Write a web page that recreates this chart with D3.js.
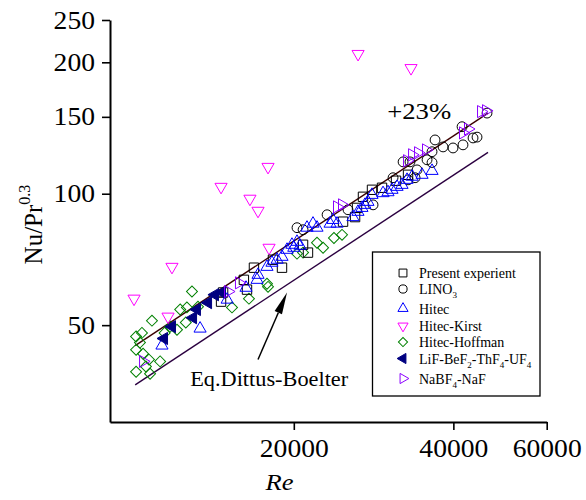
<!DOCTYPE html>
<html>
<head>
<meta charset="utf-8">
<script src="https://cdn.jsdelivr.net/npm/d3@7/dist/d3.min.js"></script>
<style>
  html, body { margin: 0; padding: 0; background: #fff; }
  svg { display: block; }
  text { font-family: "Liberation Serif", "Times New Roman", serif; fill: #000; }
</style>
</head>
<body>
<svg id="chart" width="586" height="500"></svg>
<script>
// ---- data: [Re, Nu/Pr^0.3] ----
const presentExp = [
  [14580,56.6],[14710,59.4],[16100,63.5],[16320,60.3],[16820,67.7],[18270,70.6],
  [19000,67.7],[20820,76.4],[21270,73.3],[24770,86.3],[26100,88.4],[26320,92.8],
  [27010,98.4],[28090,102.1],[29340,103.2],[31180,107.1],[32850,110.5]
];
const lino3 = [
  [20280,83.6],[20820,82.7],[23110,89.5],[25310,91.9],[28220,94.3],[30780,108.8],
  [32850,107.6],[33870,108.8],[34160,113.4],[32150,118.3],[33130,118.3],[35680,119.6],
  [36460,117.9],[36460,124.8],[36940,132.8],[38250,128.0],[39940,127.3],[41710,129.4],
  [41540,142.4],[43570,134.2],[44330,134.8],[46300,153.0]
];
const hitec = [
  [11280,44.9],[13310,49.1],[14970,57.2],[16250,60.9],[17050,63.5],[17120,65.2],
  [17800,68.0],[18190,69.5],[18600,70.6],[19000,71.7],[19420,74.4],[19840,76.4],
  [20000,75.2],[20550,76.0],[20280,77.6],[21180,83.6],[21740,85.4],[22120,83.6],
  [23410,85.4],[23710,87.1],[24130,85.4],[25860,88.4],[26430,90.9],[26890,92.8],
  [27240,94.3],[27600,95.8],[28090,99.4],[29470,100.3],[30110,100.8],[30640,102.1],
  [31320,103.7],[32000,104.8],[32710,107.6],[33430,109.4],[34910,110.5],[36460,112.8]
];
const hitecKirst = [
  [9990,57.5],[11780,68.0],[11580,52.3],[14580,103.7],[16530,97.4],[17120,91.4],
  [17880,115.2],[17960,75.2],[26440,209],[33280,194]
];
const hitecHoffman = [
  [10080,47.1],[10340,48.0],[10080,43.9],[10390,43.0],[10660,41.7],[10520,40.2],
  [10080,39.1],[10710,38.7],[10250,45.6],[10800,51.2],[11190,41.3],[11410,48.0],
  [11690,49.6],[12040,48.8],[12210,54.3],[12570,54.9],[12850,59.7],[12510,50.7],
  [13190,55.1],[15290,54.9],[16460,57.5],[17800,62.2],[17880,61.2],[20280,72.9],
  [20820,73.3],[22120,77.2],[22710,75.2],[23810,79.2],[24660,80.5]
];
const lifBef = [
  [11380,46.6],[11780,49.6],[12910,52.0],[13130,54.3],[13780,56.3],[14200,58.7],[14640,59.4]
];
const nabf4 = [
  [10390,41.3],[15030,59.7],[15760,62.5],[24130,93.3],[24660,94.3],[32710,119.0],
  [33430,122.8],[34310,124.1],[35520,126.0],[41710,137.8],[42630,140.7],[45110,154.2],
  [46100,154.9]
];

// correlation lines (end points)
const lineRe = [10040, 46500];
const dittusNu = [36.5, 124.4];
const plus23Nu = [44.9, 153.0];

// axis ticks
const yMajor = [50, 100, 150, 200, 250];
const xMajor = [20000, 40000, 60000];
const yMinor = d3.range(1, 31).map(i => i * 50 / 6).filter(v => v >= 30 && v <= 250 && Math.abs(v / 50 - Math.round(v / 50)) > 1e-6);
const xMinor = d3.range(1, 28).map(i => i * 20000 / 9).filter(v => v >= 9000 && v <= 60000 && Math.abs(v / 20000 - Math.round(v / 20000)) > 1e-6);

const svg = d3.select("#chart");
const x = d3.scaleLog().domain([9000, 60000]).range([110, 546.7]);
const y = d3.scaleLog().domain([30, 250]).range([422, 20]);

// ---- axes ----
const gy = svg.append("g").attr("transform", `translate(${x.range()[0]},0)`);
gy.call(d3.axisLeft(y).tickValues(yMinor).tickSize(4).tickSizeOuter(0).tickFormat(""));
gy.call(d3.axisLeft(y).tickValues(yMajor).tickSize(8).tickSizeOuter(0).tickPadding(7).tickFormat(d3.format("d")));
const gx = svg.append("g").attr("transform", `translate(0,${y.range()[0]})`);
gx.call(d3.axisBottom(x).tickValues(xMinor).tickSize(4).tickSizeOuter(0).tickFormat(""));
gx.call(d3.axisBottom(x).tickValues(xMajor).tickSize(8).tickSizeOuter(0).tickPadding(9).tickFormat(d3.format("d")));

svg.selectAll(".domain").attr("stroke", "#000").attr("stroke-width", 2);
svg.selectAll(".tick line").attr("stroke", "#000").attr("stroke-width", 1.6);
svg.selectAll(".tick text")
  .attr("font-size", 25)
  .attr("font-family", "Liberation Serif, serif")
  .attr("fill", "#000")
  .attr("textLength", d => String(d).length * 13.8)
  .attr("lengthAdjust", "spacingAndGlyphs");

// axis titles
svg.append("text")
  .attr("x", x(18800)).attr("y", 490)
  .attr("text-anchor", "middle")
  .attr("font-size", 23).attr("font-style", "italic")
  .attr("textLength", 28).attr("lengthAdjust", "spacingAndGlyphs")
  .text("Re");

const yTitle = svg.append("text")
  .attr("transform", `translate(42,${y(85)}) rotate(-90)`)
  .attr("text-anchor", "middle")
  .attr("font-size", 25);
yTitle.append("tspan").text("Nu/Pr");
yTitle.append("tspan").attr("font-size", 16).attr("dy", -12).text("0.3");

// ---- correlation lines ----
const lineGen = d3.line().x(d => x(d[0])).y(d => y(d[1]));
svg.append("path")
  .attr("d", lineGen(lineRe.map((r, i) => [r, dittusNu[i]])))
  .attr("fill", "none").attr("stroke", "#2b0040").attr("stroke-width", 1.4);
svg.append("path")
  .attr("d", lineGen(lineRe.map((r, i) => [r, plus23Nu[i]])))
  .attr("fill", "none").attr("stroke", "#3a0000").attr("stroke-width", 1.4);

// ---- scatter series ----
const series = [
  { name: "Present experient", data: presentExp, type: d3.symbolSquare, size: 88, rot: 0, stroke: "#000", fill: "none" },
  { name: "LINO3", data: lino3, type: d3.symbolCircle, size: 76, rot: 0, stroke: "#000", fill: "none" },
  { name: "Hitec", data: hitec, type: d3.symbolTriangle, size: 64, rot: 0, stroke: "#0000ff", fill: "none" },
  { name: "Hitec-Kirst", data: hitecKirst, type: d3.symbolTriangle, size: 64, rot: 180, stroke: "#ff00ff", fill: "none" },
  { name: "Hitec-Hoffman", data: hitecHoffman, type: d3.symbolSquare, size: 60, rot: 45, stroke: "#008000", fill: "none" },
  { name: "LiF", data: lifBef, type: d3.symbolTriangle, size: 64, rot: -90, stroke: "#000080", fill: "#000080" },
  { name: "NaBF4-NaF", data: nabf4, type: d3.symbolTriangle, size: 64, rot: 90, stroke: "#8b00ff", fill: "none" }
];

const drawOrder = [4, 3, 0, 1, 2, 5, 6];
drawOrder.forEach(i => {
  const s = series[i];
  svg.append("g").selectAll("path")
    .data(s.data)
    .join("path")
    .attr("d", d3.symbol(s.type, s.size))
    .attr("transform", d => `translate(${x(d[0])},${y(d[1])}) rotate(${s.rot})`)
    .attr("fill", s.fill)
    .attr("stroke", s.stroke)
    .attr("stroke-width", 1);
});

// ---- annotations ----
svg.append("text")
  .attr("x", x(30000)).attr("y", y(148.5))
  .attr("font-size", 23)
  .attr("textLength", 64).attr("lengthAdjust", "spacingAndGlyphs")
  .text("+23%");

svg.append("text")
  .attr("x", x(12750)).attr("y", y(36.3))
  .attr("font-size", 22)
  .attr("textLength", 158).attr("lengthAdjust", "spacingAndGlyphs")
  .text("Eq.Dittus-Boelter");

// arrow pointing at the Dittus-Boelter line
const arrowTail = [17120, 41.7];
const arrowHead = [19420, 59.4];
const tx = x(arrowTail[0]), ty = y(arrowTail[1]);
const hx = x(arrowHead[0]), hy = y(arrowHead[1]);
const ang = Math.atan2(hy - ty, hx - tx);
const headLen = 22, headW = 4;
const bx = hx - headLen * Math.cos(ang), by = hy - headLen * Math.sin(ang);
svg.append("line")
  .attr("x1", tx).attr("y1", ty).attr("x2", bx).attr("y2", by)
  .attr("stroke", "#000").attr("stroke-width", 1.5);
svg.append("path")
  .attr("d", `M${hx},${hy}L${bx + headW * Math.sin(ang)},${by - headW * Math.cos(ang)}L${bx - headW * Math.sin(ang)},${by + headW * Math.cos(ang)}Z`)
  .attr("fill", "#000");

// ---- legend ----
const legend = svg.append("g");
legend.append("rect")
  .attr("x", 372.5).attr("y", 252).attr("width", 167.5).attr("height", 144)
  .attr("fill", "#fff").attr("stroke", "#000").attr("stroke-width", 1.3);

const legendRows = [273, 289, 308.5, 326, 342, 358.5, 378.5];
const legendLabels = [
  [["Present experient", 0]],
  [["LINO", 0], ["3", 1]],
  [["Hitec", 0]],
  [["Hitec-Kirst", 0]],
  [["Hitec-Hoffman", 0]],
  [["LiF-BeF", 0], ["2", 1], ["-ThF", 0], ["4", 1], ["-UF", 0], ["4", 1]],
  [["NaBF", 0], ["4", 1], ["-NaF", 0]]
];
series.forEach((s, i) => {
  const cy = legendRows[i];
  legend.append("path")
    .attr("d", d3.symbol(s.type, s.size * 0.7))
    .attr("transform", `translate(403,${cy}) rotate(${s.rot})`)
    .attr("fill", s.fill).attr("stroke", s.stroke).attr("stroke-width", 1);
  const t = legend.append("text")
    .attr("x", 419).attr("y", cy + 5)
    .attr("font-size", 14);
  let shifted = false;
  legendLabels[i].forEach(([str, sub]) => {
    const sp = t.append("tspan").text(str);
    if (sub && !shifted) { sp.attr("font-size", 9).attr("dy", 4); shifted = true; }
    else if (!sub && shifted) { sp.attr("dy", -4); shifted = false; }
    else if (sub) { sp.attr("font-size", 9); }
  });
});
</script>
</body>
</html>
